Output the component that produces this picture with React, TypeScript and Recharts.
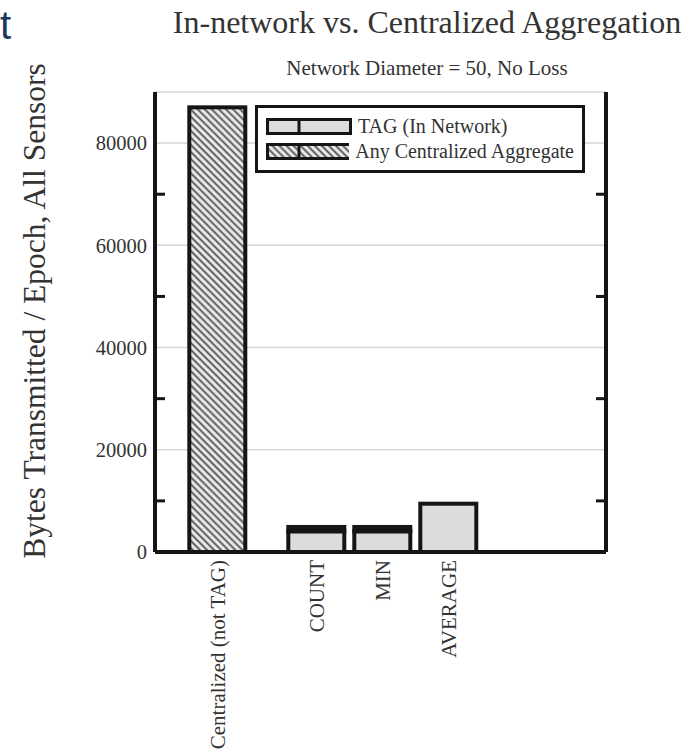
import { BarChart, Bar, XAxis, YAxis, CartesianGrid, Legend } from 'recharts';

// categories on the x axis; "gap" entries are empty slots that space the bars out
const categories = ['Centralized (not TAG)', 'gap-1', 'gap-2', 'COUNT', 'gap-3', 'MIN', 'gap-4', 'AVERAGE'];
const centralizedBytes = [87000, 0, 0, 0, 0, 0, 0, 0];
const tagBytes = [0, 0, 0, 4050, 0, 4050, 0, 9450];
const tagCapBytes = [0, 0, 0, 850, 0, 850, 0, 0];

const yTicks = [0, 20000, 40000, 60000, 80000];
const yMinorTicks = [10000, 30000, 50000, 70000];
const yMax = 90000;

const seriesNames = ['TAG (In Network)', 'Any Centralized Aggregate'];

const title = 'In-network vs. Centralized Aggregation';
const subtitle = 'Network Diameter = 50, No Loss';
const yLabel = 'Bytes Transmitted / Epoch, All Sensors';

const chartData = categories.map((name, i) => ({
  name,
  central: centralizedBytes[i],
  tag: tagBytes[i],
  cap: tagCapBytes[i],
}));

const SERIF = '"Liberation Serif", "DejaVu Serif", serif';
const INK = '#151515';
const TEXT = '#333';
const TAG_GREY = '#dcdcdc';
const BAR_W = 56;

const WideBar = (props: any) => {
  const { x, y, width, height, fill } = props;
  if (!height || height <= 0) return null;
  return (
    <rect
      x={x + width / 2 - BAR_W / 2}
      y={y}
      width={BAR_W}
      height={height}
      fill={fill}
      stroke={INK}
      strokeWidth={4}
    />
  );
};

const XTick = (props: any) => {
  const { x, y, payload } = props;
  const label = String(payload.value);
  if (label.startsWith('gap')) return null;
  return (
    <text
      x={x}
      y={y}
      transform={`rotate(-90 ${x} ${y})`}
      textAnchor="end"
      dominantBaseline="central"
      fontFamily={SERIF}
      fontSize={21}
      fill={TEXT}
    >
      {label}
    </text>
  );
};

const EmptyTick = () => <g />;

const Swatch = ({ kind }: { kind: 'tag' | 'central' }) => (
  <svg width={86} height={17} style={{ display: 'block' }}>
    <defs>
      <pattern id="legendHatch" patternUnits="userSpaceOnUse" width={5} height={5} patternTransform="rotate(45)">
        <rect width={5} height={5} fill="#eeeeee" />
        <line x1={0} y1={2.5} x2={5} y2={2.5} stroke="#4a4a4a" strokeWidth={1.8} />
      </pattern>
    </defs>
    <rect
      x={1.5}
      y={1.5}
      width={83}
      height={14}
      fill={kind === 'tag' ? TAG_GREY : 'url(#legendHatch)'}
      stroke={INK}
      strokeWidth={3}
    />
    <line x1={33} y1={1.5} x2={33} y2={15.5} stroke={INK} strokeWidth={3} />
  </svg>
);

const LegendBox = () => (
  <div
    style={{
      border: `3px solid ${INK}`,
      background: '#fff',
      padding: '7px 8px 7px 8px',
      fontFamily: SERIF,
      fontSize: 20,
      color: TEXT,
      lineHeight: '23px',
    }}
  >
    {seriesNames.map((name, i) => (
      <div key={name} style={{ display: 'flex', alignItems: 'center', gap: 6, marginTop: i ? 2 : 0 }}>
        <Swatch kind={i === 0 ? 'tag' : 'central'} />
        <span style={{ whiteSpace: 'nowrap' }}>{name}</span>
      </div>
    ))}
  </div>
);

export default function App() {
  return (
    <div style={{ position: 'absolute', left: 0, top: 0, width: 700, height: 753, background: '#fff', overflow: 'hidden' }}>
      <div
        style={{
          position: 'absolute',
          left: 0,
          top: 2,
          fontFamily: '"Liberation Sans", Arial, sans-serif',
          fontSize: 40,
          color: '#1b365d',
          lineHeight: 1.15,
        }}
      >
        t
      </div>
      <div
        style={{
          position: 'absolute',
          left: 427,
          top: 4,
          transform: 'translateX(-50%)',
          whiteSpace: 'nowrap',
          fontFamily: SERIF,
          fontSize: 32,
          color: TEXT,
          lineHeight: 1.15,
        }}
      >
        {title}
      </div>
      <div
        style={{
          position: 'absolute',
          left: 427,
          top: 56,
          transform: 'translateX(-50%)',
          whiteSpace: 'nowrap',
          fontFamily: SERIF,
          fontSize: 21,
          color: TEXT,
          lineHeight: 1.15,
        }}
      >
        {subtitle}
      </div>
      <div
        style={{
          position: 'absolute',
          left: 35,
          top: 311,
          transform: 'translate(-50%, -50%) rotate(-90deg)',
          whiteSpace: 'nowrap',
          fontFamily: SERIF,
          fontSize: 31.5,
          color: TEXT,
          lineHeight: 1.15,
        }}
      >
        {yLabel}
      </div>

      <div style={{ position: 'absolute', left: 0, top: 0 }}>
        <BarChart
          width={700}
          height={753}
          data={chartData}
          margin={{ top: 92, right: 94, left: 75, bottom: 11 }}
        >
          <defs>
            <pattern id="hatch" patternUnits="userSpaceOnUse" width={5} height={5} patternTransform="rotate(45)">
              <rect width={5} height={5} fill="#eeeeee" />
              <line x1={0} y1={2.5} x2={5} y2={2.5} stroke="#4a4a4a" strokeWidth={1.8} />
            </pattern>
          </defs>
          <CartesianGrid vertical={false} stroke="#d6d6d6" strokeWidth={1.5} />
          <XAxis
            dataKey="name"
            interval={0}
            height={190}
            padding={{ left: 46, right: 141 }}
            tick={<XTick />}
            tickLine={false}
            axisLine={{ stroke: INK, strokeWidth: 4 }}
          />
          <XAxis
            xAxisId="top"
            dataKey="name"
            orientation="top"
            height={0}
            tick={false}
            tickLine={false}
            axisLine={{ stroke: INK, strokeWidth: 4 }}
          />
          <YAxis
            width={80}
            domain={[0, yMax]}
            ticks={yTicks}
            allowDataOverflow
            tickLine={false}
            tickSize={0}
            tickMargin={8}
            tick={{ fontFamily: SERIF, fontSize: 20.5, fill: TEXT }}
            axisLine={{ stroke: INK, strokeWidth: 4 }}
          />
          <YAxis
            yAxisId="minorLeft"
            mirror
            domain={[0, yMax]}
            ticks={yMinorTicks}
            allowDataOverflow
            tickSize={10}
            tick={<EmptyTick />}
            tickLine={{ stroke: INK, strokeWidth: 3 }}
            axisLine={false}
          />
          <YAxis
            yAxisId="minorRight"
            orientation="right"
            mirror
            domain={[0, yMax]}
            ticks={yMinorTicks}
            allowDataOverflow
            tickSize={10}
            tick={<EmptyTick />}
            tickLine={{ stroke: INK, strokeWidth: 3 }}
            axisLine={{ stroke: INK, strokeWidth: 4 }}
          />
          <Legend
            layout="vertical"
            align="center"
            verticalAlign="middle"
            content={<LegendBox />}
            wrapperStyle={{ left: 255, top: 105, width: 330, height: 'auto' }}
          />
          <Bar dataKey="central" stackId="s" fill="url(#hatch)" shape={<WideBar />} isAnimationActive={false} />
          <Bar dataKey="tag" stackId="s" fill={TAG_GREY} shape={<WideBar />} isAnimationActive={false} />
          <Bar dataKey="cap" stackId="s" fill={INK} shape={<WideBar />} isAnimationActive={false} legendType="none" />
        </BarChart>
      </div>
    </div>
  );
}
